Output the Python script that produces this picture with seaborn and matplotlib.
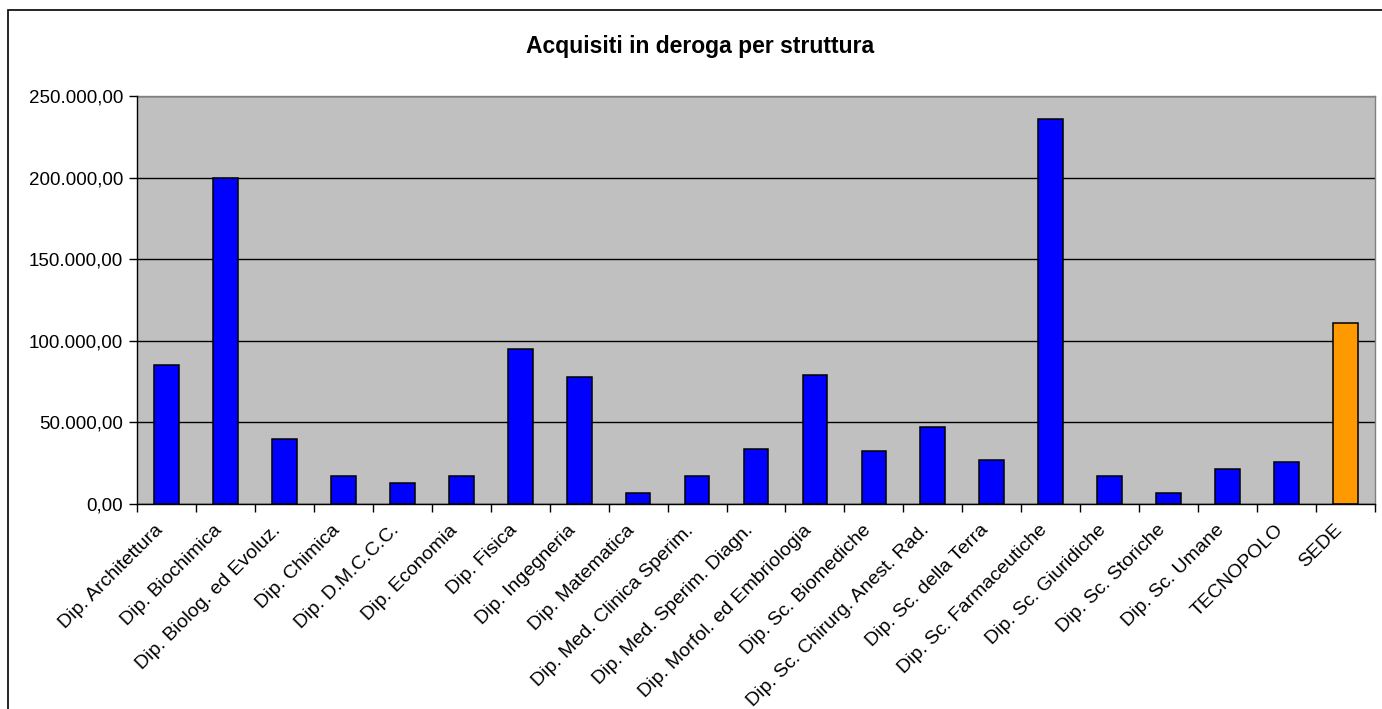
import matplotlib
matplotlib.use("Agg")
import matplotlib.pyplot as plt
import matplotlib.transforms as mtransforms
import seaborn as sns
import pandas as pd
import numpy as np
from matplotlib.patches import Rectangle
from matplotlib.ticker import FuncFormatter, FixedLocator

categories = [
    "Dip. Architettura", "Dip. Biochimica", "Dip. Biolog. ed Evoluz.", "Dip. Chimica",
    "Dip. D.M.C.C.C.", "Dip. Economia", "Dip. Fisica", "Dip. Ingegneria",
    "Dip. Matematica", "Dip. Med. Clinica Sperim.", "Dip. Med. Sperim. Diagn.",
    "Dip. Morfol. ed Embriologia", "Dip. Sc. Biomediche", "Dip. Sc. Chirurg. Anest. Rad.",
    "Dip. Sc. della Terra", "Dip. Sc. Farmaceutiche", "Dip. Sc. Giuridiche",
    "Dip. Sc. Storiche", "Dip. Sc. Umane", "TECNOPOLO", "SEDE",
]
values = [
    85000, 200000, 40000, 17400, 13000, 17400, 95000, 77600, 6500, 17400, 33500,
    78800, 32700, 47400, 27200, 235700, 17400, 6500, 21700, 25900, 110900,
]
title = "Acquisiti in deroga per struttura"
y_ticks = [0, 50000, 100000, 150000, 200000, 250000]

colors = ["#0000FF"] * (len(categories) - 1) + ["#FF9900"]

df = pd.DataFrame({"struttura": categories, "importo": values})

sns.set_theme(style="white")
plt.rcParams["font.family"] = ["Liberation Sans", "DejaVu Sans"]
plt.rcParams["text.color"] = "black"
plt.rcParams["xtick.color"] = "black"
plt.rcParams["ytick.color"] = "black"

fig = plt.figure(figsize=(13.82, 7.09), dpi=100)
W, H = 1382, 709
left, right, top, bottom = 137, 1375, 96, 504
ax = fig.add_axes([left / W, 1 - bottom / H, (right - left) / W, (bottom - top) / H])

sns.barplot(data=df, x="struttura", y="importo", hue="struttura", palette=colors,
            legend=False, width=0.42, edgecolor="black", linewidth=1.1,
            saturation=1, ax=ax, zorder=3)

ax.set_facecolor("#C0C0C0")
ax.set_xlim(-0.5, len(categories) - 0.5)
ax.set_ylim(0, 250000)
ax.yaxis.set_major_locator(FixedLocator(y_ticks))


def it_fmt(v, pos):
    s = f"{v:,.2f}"
    return s.replace(",", "X").replace(".", ",").replace("X", ".")


ax.yaxis.set_major_formatter(FuncFormatter(it_fmt))
ax.grid(axis="y", color="black", linewidth=1, zorder=1)
ax.set_axisbelow(True)

ax.set_xlabel("")
ax.set_ylabel("")

ax.set_xticks(np.arange(len(categories)))
ax.set_xticklabels(categories, rotation=45, ha="right", rotation_mode="anchor",
                   fontsize=14, va="center", color="black")
ax.set_xticks(np.arange(-0.5, len(categories), 1.0), minor=True)
ax.tick_params(axis="x", which="major", length=0, pad=17)
ax.tick_params(axis="x", which="minor", length=6, width=1, color="black", direction="out", bottom=True)
ax.tick_params(axis="y", which="major", length=6, width=1, color="black", direction="out",
               left=True, labelsize=13.5, pad=4, labelcolor="black")

shift = mtransforms.ScaledTranslation(-6 / 100, 0, fig.dpi_scale_trans)
for lbl in ax.get_xticklabels():
    lbl.set_transform(lbl.get_transform() + shift)

for side in ["top", "right"]:
    ax.spines[side].set_color("#808080")
    ax.spines[side].set_linewidth(1)
for side in ["left", "bottom"]:
    ax.spines[side].set_color("black")
    ax.spines[side].set_linewidth(1)
    ax.spines[side].set_zorder(4)

fig.text(700 / W, 1 - 46 / H, title, ha="center", va="center",
         fontsize=16.5, fontweight="bold", color="black")

fig.patches.append(Rectangle((8 / W, -0.1), 1.2, 1.1 - 10 / H, transform=fig.transFigure,
                             fill=False, edgecolor="black", linewidth=1.2))

fig.savefig("out.png", dpi=100, facecolor="white")
